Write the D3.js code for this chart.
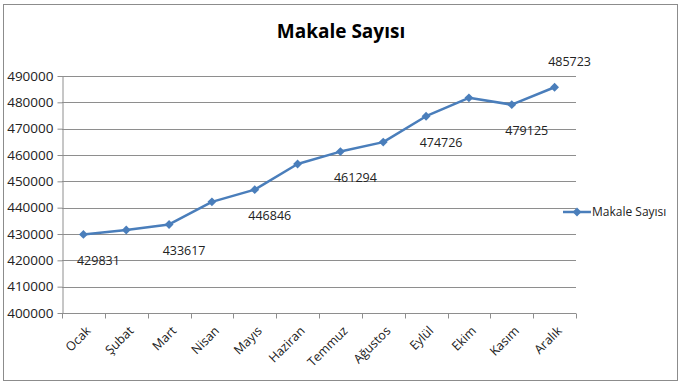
<!DOCTYPE html>
<html><head><meta charset="utf-8">
<script src="https://cdn.jsdelivr.net/npm/d3@7"></script>
<style>body{margin:0;background:#fff}svg{display:block}</style>
</head><body>
<svg id="c" width="682" height="384"></svg>
<script>
const title = "Makale Sayısı";
const seriesName = "Makale Sayısı";
const months = ["Ocak","Şubat","Mart","Nisan","Mayıs","Haziran","Temmuz","Ağustos","Eylül","Ekim","Kasım","Aralık"];
const values = [429831,431500,433617,442200,446846,456600,461294,464900,474726,481700,479125,485723];
// data label position per point: "below", "above" or null
const labelPos = ["below",null,"below",null,"below",null,"below",null,"below",null,"below","above"];
const yTicks = [400000,410000,420000,430000,440000,450000,460000,470000,480000,490000];

const svg = d3.select("#c");
const font = "'Open Sans', sans-serif";
const m = {l:62, r:576, t:76, b:313};

svg.append("rect").attr("x",3.5).attr("y",4.5).attr("width",674).attr("height",376)
  .attr("fill","#fff").attr("stroke","#8c8c8c");

const x = d3.scaleBand().domain(months).range([m.l, m.r]);
const y = d3.scaleLinear().domain([400000,490000]).range([m.b, m.t]);

// gridlines
svg.append("g").selectAll("line").data(yTicks).join("line")
  .attr("x1", m.l).attr("x2", m.r)
  .attr("y1", d=>Math.round(y(d))+0.5).attr("y2", d=>Math.round(y(d))+0.5)
  .attr("stroke","#8e8e8e").attr("stroke-width",1);

// y axis
const ya = svg.append("g").attr("transform",`translate(${m.l+0.5},0)`)
  .call(d3.axisLeft(y).tickValues(yTicks).tickFormat(d3.format("d")).tickSize(5).tickSizeOuter(0));
ya.select(".domain").attr("stroke","#8e8e8e");
ya.selectAll(".tick line").attr("stroke","#8e8e8e");
ya.selectAll(".tick text").attr("font-family",font).attr("font-size",13.5).attr("fill","#222").attr("x",-9);

// x axis
const xa = svg.append("g").attr("transform",`translate(0,${Math.round(m.b)+0.5})`);
xa.append("line").attr("x1",m.l).attr("x2",m.r).attr("stroke","#8e8e8e");
const bounds = months.map(d=>x(d)).concat([m.r]);
xa.selectAll("line.tk").data(bounds).join("line").attr("class","tk")
  .attr("x1",d=>Math.round(d)+0.5).attr("x2",d=>Math.round(d)+0.5).attr("y1",0).attr("y2",5)
  .attr("stroke","#8e8e8e");
xa.selectAll("text").data(months).join("text")
  .attr("transform",d=>`translate(${x(d)+x.bandwidth()/2+5},15) rotate(-45)`)
  .attr("text-anchor","end").attr("dy","0.35em")
  .attr("font-family",font).attr("font-size",12.5).attr("fill","#222").text(d=>d);

// line
const cx = (d,i)=>x(months[i])+x.bandwidth()/2;
const line = d3.line().x((d,i)=>cx(d,i)).y(d=>y(d));
svg.append("path").datum(values).attr("d",line).attr("fill","none")
  .attr("stroke","#4a7ebb").attr("stroke-width",2.5).attr("stroke-linejoin","round");
const diamond = d3.symbol().type(d3.symbolDiamond2).size(50);
svg.append("g").selectAll("path").data(values).join("path")
  .attr("transform",(d,i)=>`translate(${cx(d,i)},${y(d)})`)
  .attr("d",diamond).attr("fill","#4a7ebb");

// data labels
svg.append("g").selectAll("text").data(values.map((v,i)=>({v,i,p:labelPos[i]})).filter(d=>d.p))
  .join("text")
  .attr("x",d=>cx(d.v,d.i)+15).attr("y",d=>y(d.v)+(d.p==="below"?26:-26))
  .attr("text-anchor","middle").attr("dy","0.35em")
  .attr("font-family",font).attr("font-size",12.5).attr("fill","#222").text(d=>d.v);

// title
svg.append("text").attr("x",341).attr("y",31).attr("text-anchor","middle").attr("dy","0.35em")
  .attr("font-family",font).attr("font-weight","bold").attr("font-size",19).attr("fill","#000").text(title);

// legend
const lg = svg.append("g").attr("transform","translate(563,212)");
lg.append("line").attr("x1",0).attr("x2",28).attr("stroke","#4a7ebb").attr("stroke-width",2.5);
lg.append("path").attr("transform","translate(14,0)").attr("d",diamond).attr("fill","#4a7ebb");
lg.append("text").attr("x",29).attr("dy","0.35em").attr("font-family",font).attr("font-size",12)
  .attr("fill","#222").text(seriesName);
</script>
</body></html>
